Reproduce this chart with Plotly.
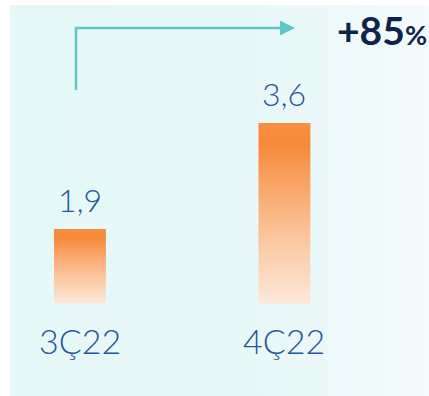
import plotly.graph_objects as go

categories = ["3Ç22", "4Ç22"]
values = [1.9, 3.6]
value_labels = ["1,9", "3,6"]
growth_label = "+85"

# layout / style constants
W, H = 429, 396
ML, MR, MT, MB = 10, 0, 5, 0
BAR_BASE = 0.705
HALF_W = 0.127
X_RANGE = [-0.342, 1.707]
Y_RANGE = [-0.776, 5.492]
LABEL_COLOR = "#1F5897"
BAR_SCALE = [[0, "#FDE8DA"], [0.35, "#FBC7A1"], [0.75, "#F89A55"], [0.88, "#F68A3B"], [1, "#F78F42"]]

fig = go.Figure()

# panel background with subtle horizontal gradient
fig.add_trace(go.Scatter(
    x=[X_RANGE[0], X_RANGE[1], X_RANGE[1], X_RANGE[0], X_RANGE[0]],
    y=[Y_RANGE[0], Y_RANGE[0], Y_RANGE[1], Y_RANGE[1], Y_RANGE[0]],
    mode="lines", line=dict(width=0), fill="toself",
    fillgradient=dict(type="horizontal",
                      colorscale=[[0, "#E7F8F8"], [0.58, "#E8F8F8"], [0.8, "#EDF9FA"], [1, "#F4FBFD"]],
                      start=X_RANGE[0], stop=X_RANGE[1]),
    hoverinfo="skip", showlegend=False,
))

for i, (cat, v, lab) in enumerate(zip(categories, values, value_labels)):
    fig.add_trace(go.Scatter(
        x=[i - HALF_W, i + HALF_W, i + HALF_W, i - HALF_W, i - HALF_W],
        y=[BAR_BASE, BAR_BASE, v, v, BAR_BASE],
        mode="lines", line=dict(width=0), fill="toself",
        fillgradient=dict(type="vertical", colorscale=BAR_SCALE, start=BAR_BASE, stop=v),
        name=cat, showlegend=False, hoverinfo="skip",
    ))
    fig.add_annotation(x=i, y=v, text=lab, showarrow=False, yanchor="bottom", yshift=8,
                       font=dict(family="Lato", size=32, color=LABEL_COLOR, weight=300))
    fig.add_annotation(x=i, y=BAR_BASE, text=cat, showarrow=False, yanchor="top", yshift=-14,
                       font=dict(family="Lato", size=34, color=LABEL_COLOR, weight=300))

def px(x):
    return (x - ML) / (W - ML - MR)

def py(y):
    return 1 - (y - MT) / (H - MT - MB)

TEAL = "#5EC8C4"
fig.add_shape(type="path", xref="paper", yref="paper",
              path=f"M{px(76)},{py(90)} L{px(76)},{py(28)} L{px(281)},{py(28)}",
              line=dict(color=TEAL, width=2.5))
fig.add_shape(type="path", xref="paper", yref="paper",
              path=f"M{px(280)},{py(20.5)} L{px(295)},{py(28)} L{px(280)},{py(35.5)} Z",
              fillcolor=TEAL, line=dict(width=0))

fig.add_annotation(xref="paper", yref="paper", x=px(429), y=py(30), xanchor="right", yanchor="middle",
                   text=f"<b>{growth_label}</b><b><span style='font-size:27px'>%</span></b>",
                   showarrow=False, font=dict(family="Lato", size=39, color="#0E2549"))

fig.update_layout(
    width=W, height=H, margin=dict(l=ML, r=MR, t=MT, b=MB),
    paper_bgcolor="white", plot_bgcolor="#E8F8F8",
    xaxis=dict(range=X_RANGE, visible=False, fixedrange=True),
    yaxis=dict(range=Y_RANGE, visible=False, fixedrange=True),
    showlegend=False,
)

fig.write_html("out.html", config={"displayModeBar": False},
               post_script="document.body.style.margin='0';document.body.style.overflow='hidden';")
